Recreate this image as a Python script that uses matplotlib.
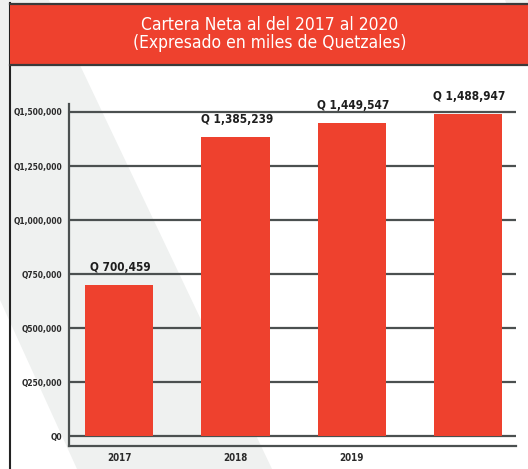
import matplotlib
matplotlib.use("Agg")
import matplotlib.pyplot as plt
from matplotlib.patches import Polygon, Rectangle
from matplotlib.lines import Line2D
from matplotlib import font_manager

# Datos (miles de Quetzales)
anios = ["2017", "2018", "2019", "2020"]
etiquetas_x = ["2017", "2018", "2019", ""]
cartera = [700459, 1385239, 1449547, 1488947]
ticks_y = [0, 250000, 500000, 750000, 1000000, 1250000, 1500000]
titulo = "Cartera Neta al del 2017 al 2020\n(Expresado en miles de Quetzales)"

rojo = "#ee412e"
gris = "#4b5050"
plt.rcParams["font.family"] = ["DejaVu Sans"]
plt.rcParams["font.stretch"] = "condensed"
condensada = any("Condensed" in f.fname for f in font_manager.fontManager.ttflist)

W, H = 528, 469
fig = plt.figure(figsize=(W / 100, H / 100), dpi=100)
fig.patch.set_facecolor("white")

# franja gris diagonal del fondo (coordenadas en pixeles de la figura)
def px(x, y):
    return (x / W, 1 - y / H)

franja = Polygon([px(0, 0), px(49, 0), px(272, 469), px(77, 469), px(0, 300)],
                 closed=True, transform=fig.transFigure, facecolor="#eff1f0",
                 edgecolor="none", zorder=0)
fig.patches.append(franja)
fig.patches.append(Polygon([px(505, 0), px(528, 0), px(528, 5), px(507, 5)],
                           closed=True, transform=fig.transFigure,
                           facecolor="#eff1f0", edgecolor="none", zorder=0))

# linea vertical izquierda
fig.lines.append(Line2D([10 / W, 10 / W], [0, 1 - 3 / H], transform=fig.transFigure,
                        color="#222222", lw=1.5, zorder=1))

# banda del titulo
x0, y0 = px(10, 65)
banda = Rectangle((x0, y0), 1 - x0, 61 / H, transform=fig.transFigure,
                  facecolor=rojo, edgecolor="none", zorder=1)
fig.patches.append(banda)
for yy in (4, 65):
    fig.lines.append(Line2D([10 / W, 1], [1 - yy / H, 1 - yy / H], transform=fig.transFigure,
                            color="#3a3a3a", lw=1.6, zorder=2))
fig.text(270 / W, 1 - 34 / H, titulo, ha="center", va="center", color="white",
         fontsize=12.5 if condensada else 11.5, linespacing=1.05, zorder=3)

# grafico de barras
ax = fig.add_axes([69 / W, 1 - 446 / H, (516 - 69) / W, (446 - 104) / H])
ax.set_zorder(5)
ax.patch.set_alpha(0)
pos = list(range(len(anios)))
ax.bar(pos, cartera, width=0.585, color=rojo, zorder=3)

ax.set_xlim(-0.43, 3.41)
ax.set_ylim(-46000, 1537000)
ax.set_yticks(ticks_y)
ax.set_yticklabels(["Q{:,}".format(v) for v in ticks_y], fontsize=6,
                   fontweight="bold", color="#2a2a2a")
ax.set_xticks(pos)
ax.set_xticklabels(etiquetas_x, fontsize=7, fontweight="bold", color="#2a2a2a")
ax.tick_params(axis="both", length=0)
ax.tick_params(axis="y", pad=5)
ax.tick_params(axis="x", pad=5)
ax.grid(axis="y", color=gris, lw=1.6, zorder=1)

for s in ["top", "right"]:
    ax.spines[s].set_visible(False)
ax.spines["left"].set_color(gris)
ax.spines["left"].set_linewidth(1.6)
ax.spines["bottom"].set_color(gris)
ax.spines["bottom"].set_linewidth(1.6)

for p, v in zip(pos, cartera):
    ax.annotate("Q {:,}".format(v), (p, v), xytext=(1, 8), textcoords="offset points",
                ha="center", va="bottom", fontsize=8.5 if condensada else 7.5,
                fontweight="bold", color="#1e1e1e", zorder=4)

fig.savefig("out.png", dpi=100, facecolor=fig.get_facecolor())
